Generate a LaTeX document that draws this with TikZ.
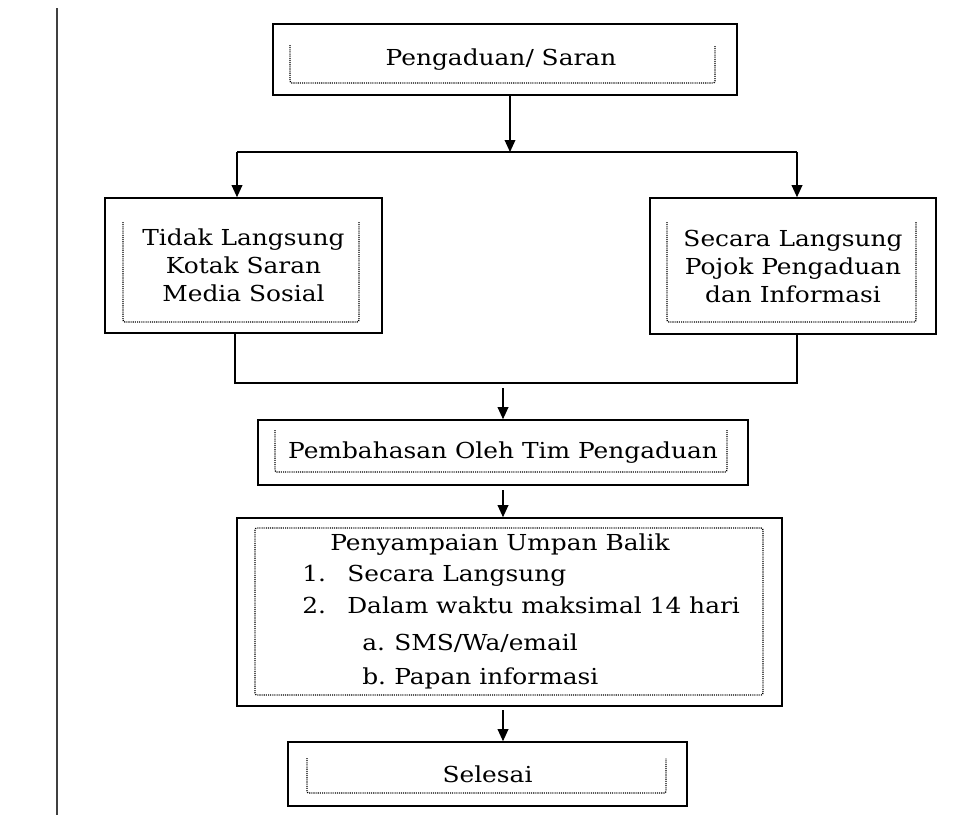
\documentclass[tikz,border=0pt]{standalone}
\usepackage{fontspec}
\setmainfont[FakeStretch=1.13]{DejaVu Serif}
\usetikzlibrary{arrows.meta}
\begin{document}
\begin{tikzpicture}[x=0.75pt,y=-0.75pt,
  outerbox/.style={draw=black, line width=1.2pt, inner sep=0pt, align=center,
    font=\fontsize{16.5}{21}\selectfont},
  bw/.style={minimum width=#1*0.75pt},
  bh/.style={minimum height=#1*0.75pt},
  dotline/.style={line width=1pt, black, dash pattern=on 0.8pt off 0.8pt, rounded corners=1.5pt},
  conn/.style={line width=1pt},
  arr/.style={line width=1pt, -{Triangle[length=9pt,width=8pt]}},
  itemtext/.style={anchor=base west, inner sep=0pt, font=\fontsize{16.5}{21}\selectfont}
]
\useasboundingbox (0,0) rectangle (967,819);
\fill[white] (0,0) rectangle (967,819);

% left margin rule
\draw[line width=1.6pt, black!75] (57,8) -- (57,815);

% boxes
\node[outerbox, bw=464, bh=71] (T) at (505,59.5) {\hspace*{-6pt}Pengaduan/ Saran};
\draw[dotline] (290,45) -- (290,83) -- (715,83) -- (715,45);

\node[outerbox, bw=277, bh=135] (L) at (243.5,265.5) {Tidak Langsung\\Kotak Saran\\Media Sosial};
\draw[dotline] (123,222) -- (123,322) -- (359,322) -- (359,222);

\node[outerbox, bw=286, bh=136] (R) at (793,266) {Secara Langsung\\Pojok Pengaduan\\dan Informasi};
\draw[dotline] (667,222) -- (667,322) -- (916,322) -- (916,222);

\node[outerbox, bw=490, bh=65] (P) at (503,452.5) {Pembahasan Oleh Tim Pengaduan};
\draw[dotline] (275,430) -- (275,472) -- (727,472) -- (727,430);

\node[outerbox, bw=545, bh=188] (U) at (509.5,612) {};
\draw[dotline] (255,528) rectangle (763,695);
\node[itemtext] (u0) at (330,550) {Penyampaian Umpan Balik};
\node[itemtext] (u1n) at (302,581) {1.};
\node[itemtext] (u1) at (347,581) {Secara Langsung};
\node[itemtext] (u2n) at (302,613) {2.};
\node[itemtext] (u2) at (347,613) {Dalam waktu maksimal 14 hari};
\node[itemtext] (uan) at (362,650) {a.};
\node[itemtext] (ua) at (394,650) {SMS/Wa/email};
\node[itemtext] (ubn) at (362,684) {b.};
\node[itemtext] (ub) at (394,684) {Papan informasi};

\node[outerbox, bw=399, bh=64] (S) at (487.5,774) {Selesai};
\draw[dotline] (307,758) -- (307,793) -- (666,793) -- (666,758);

% connectors
\coordinate (j1) at (510,152);
\coordinate (jl) at (237,152);
\coordinate (jr) at (797,152);
\draw[arr] (T.south -| j1) -- (j1);
\draw[conn] (jl) -- (jr);
\draw[arr] (jl) -- (L.north -| jl);
\draw[arr] (jr) -- (R.north -| jr);

\coordinate (bl) at (235,383);
\coordinate (br) at (797,383);
\coordinate (m1) at (503,388);
\draw[conn] (L.south -| bl) -- (bl) -- (br) -- (R.south -| br);
\draw[arr] (m1) -- (P.north -| m1);

\coordinate (m2) at (503,490);
\draw[arr] (m2) -- (U.north -| m2);
\coordinate (m3) at (503,710);
\draw[arr] (m3) -- (S.north -| m3);
\end{tikzpicture}
\end{document}
